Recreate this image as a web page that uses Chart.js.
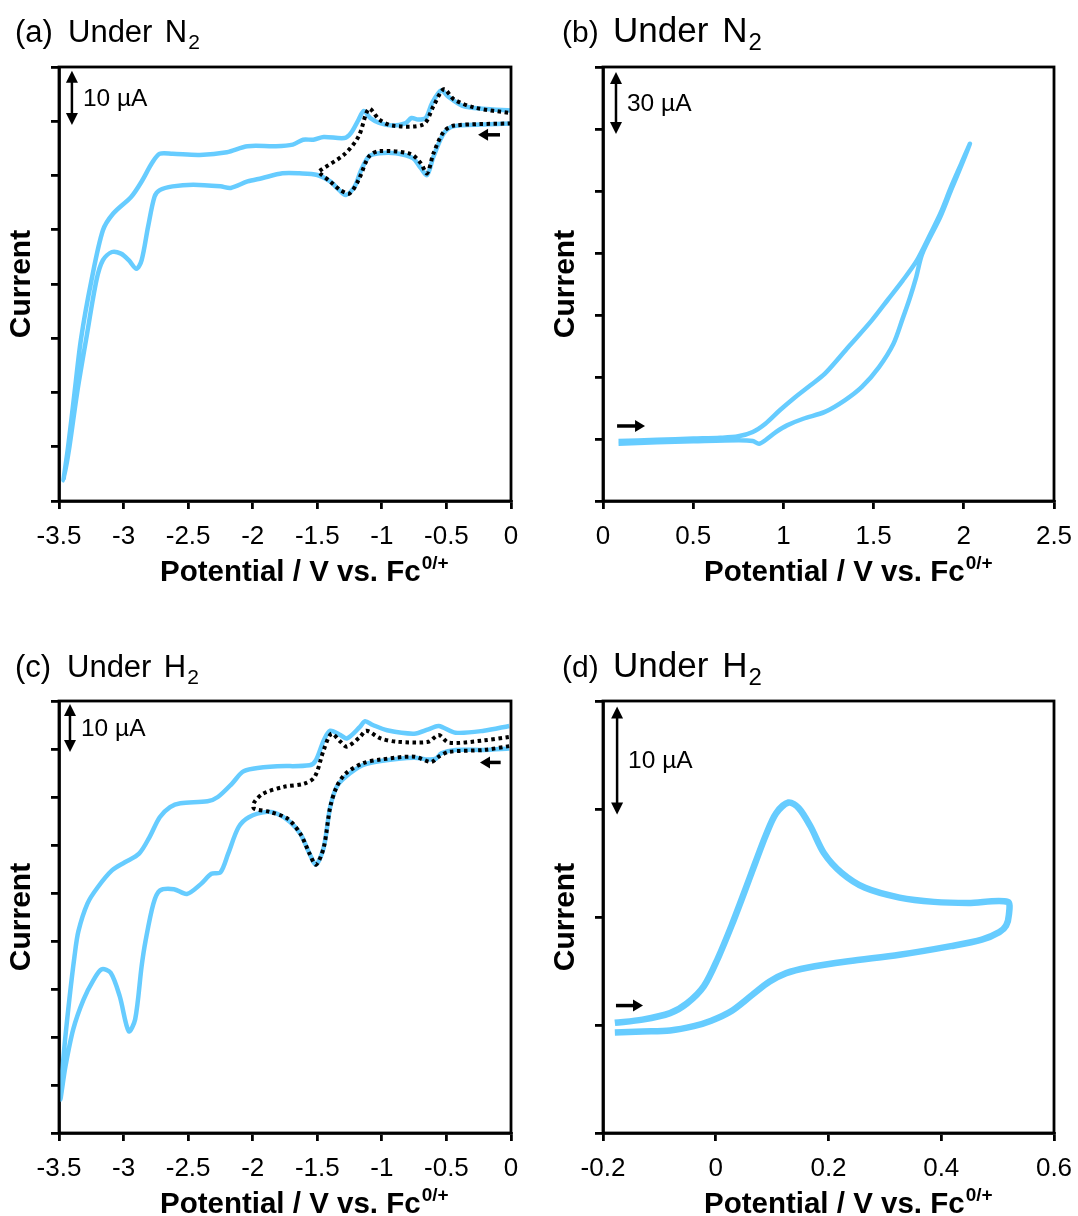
<!DOCTYPE html>
<html>
<head>
<meta charset="utf-8">
<script src="https://cdn.jsdelivr.net/npm/chart.js@4.4.1/dist/chart.umd.min.js"></script>
<style>
  html, body { margin: 0; padding: 0; background: #fff; }
  #wrap { position: relative; width: 1078px; height: 1216px; overflow: hidden; }
  canvas { position: absolute; }
</style>
</head>
<body>
<div id="wrap">
  <canvas id="cvA" width="539" height="608" style="left:0;top:0"></canvas>
  <canvas id="cvB" width="539" height="608" style="left:539px;top:0"></canvas>
  <canvas id="cvC" width="539" height="608" style="left:0;top:608px"></canvas>
  <canvas id="cvD" width="539" height="608" style="left:539px;top:608px"></canvas>
</div>
<script>
// ---- data (potential in V vs Fc, current in uA, offset is arbitrary) ----

// (a) N2, full window: sweep 0 -> -3.47 V and back
const aBlueX = [0, -0.22, -0.44, -0.52, -0.60, -0.65, -0.70, -0.76, -0.89, -1.02, -1.10, -1.16, -1.21, -1.28, -1.33, -1.40, -1.50, -1.64, -1.77, -1.93, -2.04, -2.17, -2.25, -2.46, -2.62, -2.72, -2.76, -2.81, -2.86, -2.90, -2.96, -3.02, -3.09, -3.16, -3.21, -3.29, -3.36, -3.42, -3.465,
  -3.43, -3.38, -3.33, -3.25, -3.16, -3.08, -2.94, -2.86, -2.78, -2.72, -2.62, -2.41, -2.20, -2.04, -1.82, -1.69, -1.61, -1.53, -1.45, -1.29, -1.24, -1.18, -1.14, -1.09, -1.02, -0.92, -0.82, -0.77, -0.72, -0.66, -0.61, -0.54, -0.49, -0.38, -0.22, 0];
const aBlueY = [69.6, 69.4, 69.1, 67.8, 63.5, 60.1, 61.4, 63.2, 64.1, 64.1, 63.5, 61.0, 58.0, 56.4, 57.3, 58.9, 60.1, 60.4, 60.4, 59.5, 58.9, 57.7, 58.0, 58.3, 58.0, 57.3, 56.1, 50.6, 44.4, 42.8, 44.4, 45.6, 45.9, 44.4, 40.7, 29.8, 19.9, 9.9, 3.8,
  9.9, 19.9, 29.8, 40.5, 49.9, 53.0, 56.1, 58.9, 62.3, 64.0, 64.0, 63.8, 64.3, 65.4, 65.4, 65.7, 66.6, 66.6, 67.1, 66.9, 67.8, 70.3, 71.9, 70.6, 69.7, 69.2, 69.6, 70.6, 70.3, 70.6, 73.4, 75.7, 74.6, 72.9, 72.3, 72.0];
// (a) dotted: narrow window 0 -> -1.5 V
const aDotX = [0, -0.44, -0.52, -0.60, -0.65, -0.70, -0.78, -1.02, -1.10, -1.18, -1.25, -1.32, -1.40, -1.48,
  -1.49, -1.29, -1.18, -1.10, -1.02, -0.92, -0.68, -0.60, -0.52, -0.44, -0.28, 0];
const aDotY = [69.6, 69.2, 68.1, 64.1, 60.4, 62.3, 64.0, 64.5, 63.5, 59.2, 56.7, 57.3, 58.9, 60.4,
  60.7, 63.9, 67.2, 72.3, 70.3, 69.2, 69.4, 72.8, 75.9, 74.0, 72.5, 71.5];

// (b) N2, anodic scan 0.09 -> 2.03 V and back
const bFwdX = [0.086, 0.30, 0.50, 0.65, 0.75, 0.83, 0.90, 0.98, 1.055, 1.15, 1.23, 1.36, 1.49, 1.58, 1.66, 1.74, 1.816, 1.87, 1.93, 1.987, 2.034];
const bFwdY = [29.0, 29.6, 30.2, 30.6, 31.3, 33.4, 37.4, 43.9, 49.5, 56.0, 61.6, 74.5, 87.4, 97.5, 106.5, 116.4, 129.4, 139.1, 152.1, 163.5, 172.9];
const bRevX = [1.987, 1.93, 1.87, 1.77, 1.735, 1.70, 1.66, 1.61, 1.53, 1.435, 1.34, 1.23, 1.11, 1.02, 0.96, 0.90, 0.865, 0.83, 0.75, 0.50, 0.30, 0.086];
const bRevY = [162.5, 150.5, 137.5, 119.7, 108.0, 98.0, 88.0, 76.1, 64.8, 55.2, 48.7, 43.1, 39.8, 36.6, 33.4, 29.4, 27.7, 29.0, 29.4, 28.9, 28.4, 27.7];

// (c) H2, full window
const cBlueX = [-0.014, -0.21, -0.43, -0.54, -0.58, -0.64, -0.75, -1.01, -1.15, -1.28, -1.35, -1.40, -1.45, -1.51, -1.56, -1.63, -1.71, -1.81, -1.89, -2.03, -2.11, -2.19, -2.25, -2.32, -2.40, -2.51, -2.61, -2.72, -2.77, -2.83, -2.86, -2.91, -2.96, -3.03, -3.10, -3.17, -3.23, -3.31, -3.39, -3.45, -3.49,
  -3.46, -3.42, -3.38, -3.35, -3.28, -3.20, -3.09, -2.99, -2.88, -2.80, -2.72, -2.64, -2.56, -2.35, -2.27, -2.16, -2.08, -2.00, -1.81, -1.56, -1.51, -1.45, -1.40, -1.32, -1.27, -1.17, -1.13, -1.07, -0.96, -0.75, -0.64, -0.56, -0.43, -0.21, -0.014];
const cBlueY = [80.1, 79.8, 79.8, 79.1, 78.0, 77.8, 78.2, 77.5, 76.6, 74.2, 72.1, 67.9, 59.5, 55.9, 58.2, 62.3, 64.8, 66.5, 66.9, 65.8, 63.7, 58.2, 54.3, 54.0, 51.9, 49.8, 50.8, 50.5, 47.7, 40.0, 34.8, 23.7, 21.2, 28.5, 33.4, 34.1, 32.0, 27.8, 21.6, 13.9, 7.0,
  17.4, 27.8, 36.8, 42.0, 47.8, 51.2, 54.7, 56.4, 58.2, 61.6, 65.8, 67.9, 68.7, 69.1, 70.0, 72.8, 75.2, 75.9, 76.4, 76.6, 77.7, 81.8, 83.8, 82.9, 82.2, 84.6, 85.8, 85.0, 83.9, 83.2, 84.1, 84.8, 83.4, 83.8, 84.8];
// (c) dotted: 0 -> -2.0 V
const cDotX = [-0.014, -0.21, -0.48, -0.56, -0.62, -0.75, -1.01, -1.15, -1.28, -1.35, -1.40, -1.45, -1.51, -1.56, -1.63, -1.73, -1.87, -1.99,
  -1.99, -1.92, -1.76, -1.60, -1.52, -1.45, -1.39, -1.32, -1.27, -1.17, -1.12, -1.01, -0.88, -0.64, -0.56, -0.48, -0.21, -0.014];
const cDotY = [80.6, 79.8, 79.4, 78.4, 77.3, 78.4, 77.8, 77.0, 74.9, 72.1, 67.9, 59.5, 55.9, 58.2, 62.3, 65.5, 66.9, 67.6,
  68.8, 70.7, 72.1, 72.8, 74.2, 79.8, 83.2, 81.5, 80.5, 82.5, 83.8, 82.2, 81.5, 81.5, 82.9, 81.3, 81.8, 82.5];

// (d) H2, -0.18 -> 0.52 V and back
const dX = [-0.179, -0.130, -0.081, -0.051, -0.021, 0.004, 0.028, 0.050, 0.070, 0.089, 0.107, 0.129, 0.147, 0.168, 0.192, 0.223, 0.265, 0.326, 0.387, 0.448, 0.518,
  0.520, 0.515, 0.503, 0.472, 0.417, 0.326, 0.235, 0.162, 0.125, 0.095, 0.065, 0.028, -0.008, -0.039, -0.081, -0.130, -0.179];
const dY = [10.2, 10.5, 11.1, 12.0, 13.6, 16.2, 19.2, 22.2, 25.0, 27.6, 29.6, 30.6, 30.1, 28.4, 25.9, 24.1, 22.7, 21.8, 21.4, 21.3, 21.4,
  20.2, 19.2, 18.6, 17.9, 17.3, 16.5, 15.9, 15.3, 14.8, 14.0, 12.8, 11.3, 10.4, 9.9, 9.5, 9.4, 9.3];

// tick values
const xTicksWide = [-3.5, -3, -2.5, -2, -1.5, -1, -0.5, 0];
const xTicksB = [0, 0.5, 1, 1.5, 2, 2.5];
const xTicksD = [-0.2, 0, 0.2, 0.4, 0.6];
const yTicksA = [0, 10, 20, 30, 40, 50, 60, 70, 80];
const yTicksB = [0, 30, 60, 90, 120, 150, 180, 210];
const yTicksC = [0, 10, 20, 30, 40, 50, 60, 70, 80, 90];
const yTicksD = [0, 10, 20, 30, 40];

const BLUE = '#66ccff';
const FONT = '"Liberation Sans", Arial, sans-serif';

const pts = (xs, ys) => xs.map((x, i) => ({ x: x, y: ys[i] }));

function blue(data, w) {
  return { data: data, borderColor: BLUE, borderWidth: w || 4.5, showLine: true, pointRadius: 0, tension: 0.3, order: 2 };
}
function dotted(data) {
  return { data: data, borderColor: '#000', borderWidth: 4, borderDash: [3.5, 3.5], showLine: true, pointRadius: 0, tension: 0.3, order: 1 };
}

function arrowHead(ctx, x, y, dx, dy, len, half) {
  const n = Math.hypot(dx, dy), ux = dx / n, uy = dy / n;
  ctx.beginPath();
  ctx.moveTo(x, y);
  ctx.lineTo(x - ux * len - uy * half, y - uy * len + ux * half);
  ctx.lineTo(x - ux * len + uy * half, y - uy * len - ux * half);
  ctx.closePath();
  ctx.fill();
}

const decor = {
  id: 'decor',
  afterDatasetsDraw(chart, args, o) {
    const { ctx, chartArea: a, scales: { x, y } } = chart;
    ctx.save();
    ctx.strokeStyle = '#000';
    ctx.fillStyle = '#000';
    ctx.lineWidth = 2.8;
    ctx.strokeRect(a.left, a.top, a.right - a.left, a.bottom - a.top);

    // panel title
    ctx.textAlign = 'left';
    ctx.textBaseline = 'alphabetic';
    const ty = a.top + o.titleDy;
    ctx.font = o.tagSize + 'px ' + FONT;
    ctx.fillText(o.tag, a.left + o.tagDx, ty);
    ctx.font = o.titleSize + 'px ' + FONT;
    let tx = a.left + o.titleDx;
    ctx.fillText(o.word, tx, ty);
    tx += ctx.measureText(o.word).width + o.titleSize * 0.4;
    ctx.fillText(o.gas, tx, ty);
    tx += ctx.measureText(o.gas).width + 1;
    ctx.font = Math.round(o.titleSize * 0.68) + 'px ' + FONT;
    ctx.fillText(o.sub, tx, ty + o.titleSize * 0.22);

    // axis titles
    ctx.font = 'bold 29.5px ' + FONT;
    let px = a.left + o.xTitleDx;
    const py = a.bottom + 80;
    ctx.fillText(o.xTitle, px, py);
    px += ctx.measureText(o.xTitle).width + 1;
    ctx.font = 'bold 19px ' + FONT;
    ctx.fillText(o.xSup, px, py - 12);

    ctx.save();
    ctx.font = 'bold 30px ' + FONT;
    ctx.translate(a.left - 37, (a.top + a.bottom) / 2);
    ctx.rotate(-Math.PI / 2);
    ctx.textAlign = 'center';
    ctx.textBaseline = 'middle';
    ctx.fillText(o.yTitle, 0, 0);
    ctx.restore();

    // scale bar
    const b = o.bar;
    const bx = x.getPixelForValue(b.x);
    const b0 = y.getPixelForValue(b.y0), b1 = y.getPixelForValue(b.y0 - b.len);
    ctx.lineWidth = 2.5;
    ctx.beginPath();
    ctx.moveTo(bx, b0 + 8);
    ctx.lineTo(bx, b1 - 8);
    ctx.stroke();
    arrowHead(ctx, bx, b0, 0, -1, 12, 6);
    arrowHead(ctx, bx, b1, 0, 1, 12, 6);
    ctx.font = '24.5px ' + FONT;
    ctx.textBaseline = 'middle';
    ctx.fillText(b.label, bx + 11, (b0 + b1) / 2 + 1);

    // sweep direction
    const s = o.sweep;
    const s0 = x.getPixelForValue(s.x0), s1 = x.getPixelForValue(s.x1), sy = y.getPixelForValue(s.y);
    const dir = Math.sign(s1 - s0);
    ctx.lineWidth = 3.5;
    ctx.beginPath();
    ctx.moveTo(s0, sy);
    ctx.lineTo(s1 - dir * 8, sy);
    ctx.stroke();
    arrowHead(ctx, s1, sy, dir, 0, 10, 6);
    ctx.restore();
  }
};

function panel(id, p) {
  const axisCommon = {
    type: 'linear',
    grid: { drawOnChartArea: false, drawTicks: true, tickLength: 8, color: '#000', lineWidth: 2.8 },
    border: { display: true, color: '#000', width: 2.8 }
  };
  new Chart(document.getElementById(id), {
    type: 'scatter',
    data: { datasets: p.datasets },
    options: {
      responsive: false,
      animation: false,
      events: [],
      layout: { padding: { top: p.top, right: p.right, left: 0, bottom: 0 } },
      plugins: {
        legend: { display: false },
        tooltip: { enabled: false },
        decor: p.decor
      },
      scales: {
        x: Object.assign({}, axisCommon, {
          min: p.xTicks[0], max: p.xTicks[p.xTicks.length - 1],
          afterBuildTicks: s => { s.ticks = p.xTicks.map(v => ({ value: v })); },
          // fixed box so the plot frame lands where the figure has it
          afterFit: s => { s.height = p.xh; s.paddingLeft = 0; s.paddingRight = 0; },
          ticks: {
            autoSkip: false, maxRotation: 0, padding: 12, color: '#000',
            font: { family: FONT, size: 26 },
            callback: v => String(v)
          }
        }),
        y: Object.assign({}, axisCommon, {
          min: p.yTicks[0], max: p.yTicks[p.yTicks.length - 1],
          afterBuildTicks: s => { s.ticks = p.yTicks.map(v => ({ value: v })); },
          afterFit: s => { s.width = p.yw; },
          ticks: { display: false }
        })
      }
    },
    plugins: [decor]
  });
}

const xTitle = 'Potential / V vs. Fc';

panel('cvA', {
  datasets: [dotted(pts(aDotX, aDotY)), blue(pts(aBlueX, aBlueY))],
  xTicks: xTicksWide, yTicks: yTicksA,
  top: 67, right: 28, yw: 59, xh: 107,
  decor: {
    tag: '(a)', word: 'Under', gas: 'N', sub: '2', tagSize: 31, titleSize: 31, tagDx: -44, titleDx: 9, titleDy: -25,
    xTitle: xTitle, xSup: '0/+', xTitleDx: 101, yTitle: 'Current',
    bar: { x: -3.40, y0: 79.3, len: 10, label: '10 µA' },
    sweep: { x0: -0.085, x1: -0.255, y: 67.5 }
  }
});

panel('cvB', {
  datasets: [blue(pts(bFwdX.concat(bRevX), bFwdY.concat(bRevY)))],
  xTicks: xTicksB, yTicks: yTicksB,
  top: 67, right: 24, yw: 64, xh: 107,
  decor: {
    tag: '(b)', word: 'Under', gas: 'N', sub: '2', tagSize: 30, titleSize: 35, tagDx: -41, titleDx: 10, titleDy: -25,
    xTitle: xTitle, xSup: '0/+', xTitleDx: 101, yTitle: 'Current',
    bar: { x: 0.072, y0: 207.6, len: 30, label: '30 µA' },
    sweep: { x0: 0.078, x1: 0.233, y: 36.3 }
  }
});

panel('cvC', {
  datasets: [dotted(pts(cDotX, cDotY)), blue(pts(cBlueX, cBlueY))],
  xTicks: xTicksWide, yTicks: yTicksC,
  top: 93, right: 28, yw: 59, xh: 83,
  decor: {
    tag: '(c)', word: 'Under', gas: 'H', sub: '2', tagSize: 31, titleSize: 31, tagDx: -44, titleDx: 8, titleDy: -24,
    xTitle: xTitle, xSup: '0/+', xTitleDx: 101, yTitle: 'Current',
    bar: { x: -3.415, y0: 89.4, len: 10, label: '10 µA' },
    sweep: { x0: -0.08, x1: -0.24, y: 77.2 }
  }
});

panel('cvD', {
  datasets: [blue(pts(dX, dY), 6.5)],
  xTicks: xTicksD, yTicks: yTicksD,
  top: 93, right: 24, yw: 64, xh: 83,
  decor: {
    tag: '(d)', word: 'Under', gas: 'H', sub: '2', tagSize: 30, titleSize: 35, tagDx: -41, titleDx: 10, titleDy: -24,
    xTitle: xTitle, xSup: '0/+', xTitleDx: 101, yTitle: 'Current',
    bar: { x: -0.175, y0: 39.5, len: 10, label: '10 µA' },
    sweep: { x0: -0.177, x1: -0.129, y: 11.8 }
  }
});
</script>
</body>
</html>
